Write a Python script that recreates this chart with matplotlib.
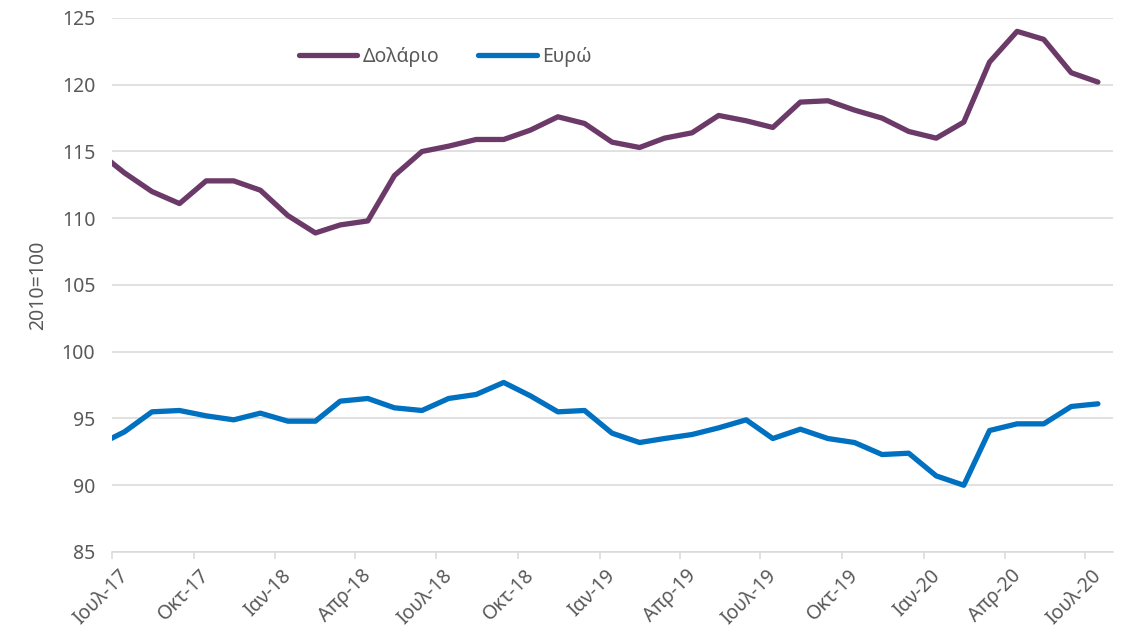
import matplotlib
matplotlib.use("Agg")
import matplotlib.pyplot as plt
import numpy as np
from datetime import date

plt.rcParams['font.family'] = ['Noto Sans', 'DejaVu Sans']

# monthly index values (2010=100), Jun-17 .. Jul-20, plotted mid-month
months = [date(2017 + (5 + i) // 12, (5 + i) % 12 + 1, 15) for i in range(38)]

dollar = [115.0, 113.4, 112.0, 111.1, 112.8, 112.8, 112.1, 110.2, 108.9, 109.5,
          109.8, 113.2, 115.0, 115.4, 115.9, 115.9, 116.6, 117.6, 117.1, 115.7,
          115.3, 116.0, 116.4, 117.7, 117.3, 116.8, 118.7, 118.8, 118.1, 117.5,
          116.5, 116.0, 117.2, 121.7, 124.0, 123.4, 120.9, 120.2]
euro = [93.0, 94.0, 95.5, 95.6, 95.2, 94.9, 95.4, 94.8, 94.8, 96.3,
        96.5, 95.8, 95.6, 96.5, 96.8, 97.7, 96.7, 95.5, 95.6, 93.9,
        93.2, 93.5, 93.8, 94.3, 94.9, 93.5, 94.2, 93.5, 93.2, 92.3,
        92.4, 90.7, 90.0, 94.1, 94.6, 94.6, 95.9, 96.1]

tick_dates = [date(2017 + (6 + 3 * i) // 12, (6 + 3 * i) % 12 + 1, 1) for i in range(13)]
tick_labels = ['Ιουλ-17', 'Οκτ-17', 'Ιαν-18', 'Απρ-18', 'Ιουλ-18', 'Οκτ-18', 'Ιαν-19',
               'Απρ-19', 'Ιουλ-19', 'Οκτ-19', 'Ιαν-20', 'Απρ-20', 'Ιουλ-20']

fig = plt.figure(figsize=(11.22, 6.35), dpi=100)
ax = fig.add_axes([112 / 1122, 1 - 552 / 635, 1001 / 1122, 534 / 635])

ax.plot(months, dollar, color='#6B3A68', lw=3.8, label='Δολάριο', solid_capstyle='round')
ax.plot(months, euro, color='#0070C0', lw=3.8, label='Ευρώ', solid_capstyle='round')

ax.set_xlim(date(2017, 7, 1), date(2020, 8, 1))
ax.set_ylim(85, 125)
ax.set_yticks(np.arange(85, 126, 5))
ax.set_xticks(tick_dates)
ax.set_xticklabels(tick_labels, rotation=45, ha='right', rotation_mode='anchor')

ax.grid(axis='y', color='#D9D9D9', lw=1.1)
ax.set_axisbelow(True)
for s in ['top', 'right', 'left']:
    ax.spines[s].set_visible(False)
ax.spines['bottom'].set_color('#D9D9D9')
ax.spines['bottom'].set_linewidth(1.1)
ax.tick_params(axis='x', colors='#595959', length=5, width=1.1, color='#D9D9D9',
               labelsize=14, pad=2)
ax.tick_params(axis='y', colors='#595959', length=0, labelsize=14, pad=12)
for lbl in ax.get_xticklabels():
    lbl.set_color('#595959')
    lbl.set_x(0)

# nudge rotated labels slightly right, like the original
import matplotlib.transforms as mtransforms
offset = mtransforms.ScaledTranslation(6 / 100, -4 / 100, fig.dpi_scale_trans)
for lbl in ax.get_xticklabels():
    lbl.set_transform(lbl.get_transform() + offset)

ax.set_ylabel('2010=100', fontsize=14, color='#595959', labelpad=10)

ax.legend(loc='center', bbox_to_anchor=(0.333, 0.927), ncol=2, frameon=False,
          fontsize=14, handlelength=3.0, handletextpad=0.3, columnspacing=2.0,
          labelcolor='#595959')

fig.savefig('out.png', dpi=100)
